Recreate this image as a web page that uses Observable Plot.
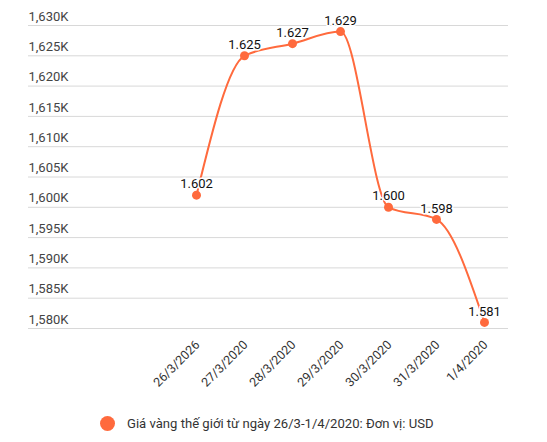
<!DOCTYPE html>
<html>
<head>
<meta charset="utf-8">
<script src="https://cdn.jsdelivr.net/npm/d3@7"></script>
<script src="https://cdn.jsdelivr.net/npm/@observablehq/plot@0.6"></script>
<style>
  body { margin: 0; background: #fff; font-family: Roboto, sans-serif; }
  #legend { display: flex; align-items: center; height: 37px; padding-left: 100px; font-size: 13.1px; color: #333; }
  #legend .dot { width: 15px; height: 15px; border-radius: 50%; background: #ff6a3d; margin-right: 12px; }
</style>
</head>
<body>
<div id="chart"></div>
<div id="legend"><span class="dot"></span><span>Giá vàng thế giới từ ngày 26/3-1/4/2020: Đơn vị: USD</span></div>
<script>
const dates = ["26/3/2026", "27/3/2020", "28/3/2020", "29/3/2020", "30/3/2020", "31/3/2020", "1/4/2020"];
const prices = [1602, 1625, 1627, 1629, 1600, 1598, 1581];
const yTicks = [1580, 1585, 1590, 1595, 1600, 1605, 1610, 1615, 1620, 1625, 1630];
const seriesName = "Giá vàng thế giới từ ngày 26/3-1/4/2020: Đơn vị: USD";

const data = dates.map((d, i) => ({date: d, price: prices[i]}));
const color = "#ff6a3d";

const chart = Plot.plot({
  width: 547,
  height: 405,
  marginTop: 25,
  marginBottom: 77,
  marginLeft: 28,
  marginRight: 39,
  style: {fontFamily: "Roboto, sans-serif", background: "#fff"},
  x: {type: "point", domain: dates, padding: 1.97, align: 0.874, axis: null},
  y: {domain: [1580, 1630], axis: null},
  marks: [
    Plot.ruleY(yTicks, {stroke: "#d8d8d8", strokeWidth: 1}),
    Plot.text(yTicks, {y: d => d, frameAnchor: "left", textAnchor: "start", dy: -9,
      text: d => d3.format(",")(d) + "K", fill: "#444", fontSize: 13}),
    Plot.text(dates, {x: d => d, frameAnchor: "bottom", dy: 17, dx: 4, rotate: -45, textAnchor: "end",
      text: d => d, fill: "#333", fontSize: 12.5}),
    Plot.line(data, {x: "date", y: "price", stroke: color, strokeWidth: 2, curve: "monotone-x"}),
    Plot.dot(data, {x: "date", y: "price", r: 4.5, fill: color}),
    Plot.text(data, {x: "date", y: "price", dy: -11, text: d => d3.format(",")(d.price).replace(",", "."),
      fill: "#111", fontSize: 13, stroke: "white", strokeWidth: 3})
  ]
});
document.getElementById("chart").appendChild(chart);
</script>
</body>
</html>
